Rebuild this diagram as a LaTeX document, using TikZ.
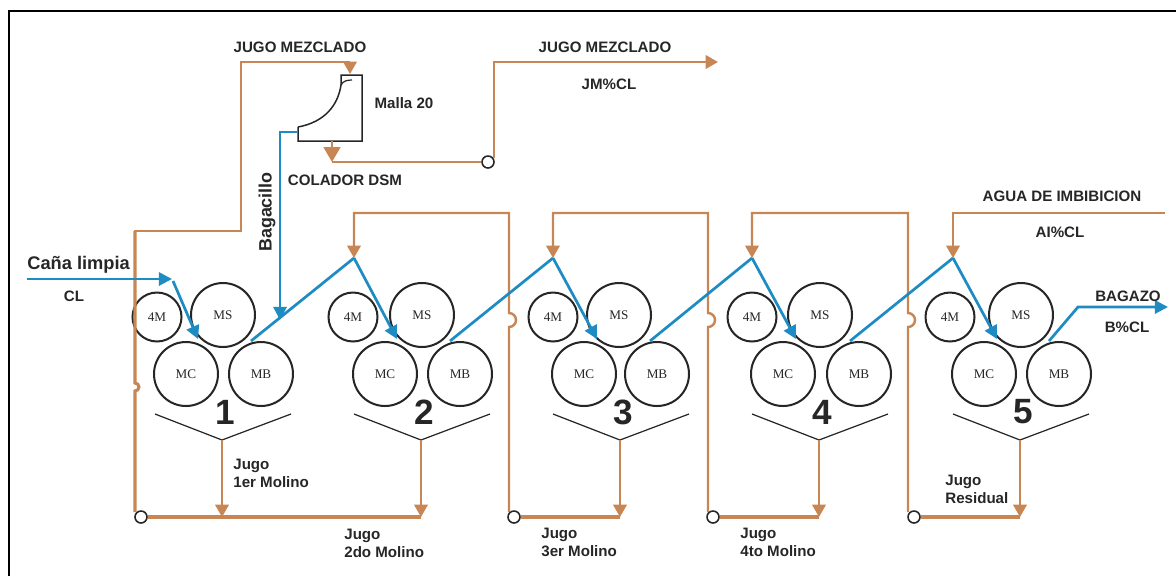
\documentclass[tikz,border=0pt]{standalone}
\usepackage{fontspec}
\setmainfont{Liberation Sans}
\newfontfamily\rollfont{Liberation Serif}
\usepackage{xcolor}
\usepackage{tikz}
\usetikzlibrary{arrows.meta,positioning,calc}
\definecolor{juice}{RGB}{200,134,84}
\definecolor{cane}{RGB}{30,140,195}
\definecolor{ink}{RGB}{38,38,38}
\tikzset{
  roll/.style={circle,draw=ink,line width=1.15pt,inner sep=0pt,font=\rollfont\fontsize{7.5}{8}\selectfont,text=ink},
  ring/.style={circle,draw=ink,line width=0.9pt,inner sep=0pt,minimum size=0.24cm},
  juiceline/.style={juice,line width=1.4pt},
  juicemain/.style={juice,line width=1.75pt},
  caneline/.style={cane,line width=1.55pt},
  juicearrow/.style={juiceline,-{Triangle[length=7pt,width=7.6pt]}},
  canearrow/.style={caneline,-{Triangle[length=7.5pt,width=7.5pt]}},
  lbl/.style={font=\bfseries\fontsize{8.6}{10.2}\selectfont,text=ink,inner sep=0pt,align=left},
  milltxt/.style={font=\bfseries\fontsize{20}{20}\selectfont,text=ink,inner sep=0pt},
}
\begin{document}
\begin{tikzpicture}[x=0.02cm,y=-0.02cm]
\useasboundingbox (0,0) rectangle (1176,576);
% frame
\coordinate (frameA) at (9,576);
\coordinate (frameB) at (9,11);
\coordinate (frameC) at (1176,11);
\draw[black,line width=1.2pt] (frameA) -- (frameB) -- (frameC);
% mills
\foreach \n/\xf/\xs/\xc/\xb/\xh in {1/157/223/186/261/222,2/353/422/385/460/421,3/553/619/584/657/620,4/752/820/783/859/819,5/950/1021/984/1059/1020} {
  \node[roll,minimum size=0.98cm] (cuatro\n) at (\xf,317) {4M};
  \node[roll,minimum size=1.28cm] (ms\n) at (\xs,315) {MS};
  \node[roll,minimum size=1.28cm] (mc\n) at (\xc,374) {MC};
  \node[roll,minimum size=1.28cm] (mb\n) at (\xb,374) {MB};
  \node[milltxt] (num\n) at (\xh+3,412) {\n};
  \coordinate (hopL\n) at (\xh-67,414);
  \coordinate (hop\n) at (\xh,440);
  \coordinate (hopR\n) at (\xh+69,414);
  \draw[ink,line width=0.7pt] (hopL\n) -- (hop\n) -- (hopR\n);
  \coordinate (drop\n) at (\xh,517);
  \draw[juicearrow] (hop\n) -- (drop\n);
}
% colador
\coordinate (dsmA) at (341,75);
\coordinate (dsmB) at (362,75);
\coordinate (dsmC) at (362,141);
\coordinate (dsmD) at (298,141);
\coordinate (dsmE) at (298,127);
\coordinate (dsmIn) at (350,74);
\coordinate (dsmOut) at (332,141);
\coordinate (bagOut) at (298,132);
\draw[ink,line width=0.85pt] (dsmE) -- (dsmD) -- (dsmC) -- (dsmB) -- (dsmA) -- (341,85) .. controls (338,105) and (325,122) .. (dsmE);
\draw[ink,line width=0.7pt] (341,85) .. controls (343,81) and (347,80) .. (352,80);
% junction points
\coordinate (inA) at (173,281);
\coordinate (top2) at (354,258);
\coordinate (top3) at (553,258);
\coordinate (top4) at (752,258);
\coordinate (top5) at (953,258);
% recycle rings
\node[ring] (ring1) at (141,517) {};
\node[ring] (ring2) at (514,517) {};
\node[ring] (ring3) at (713,517) {};
\node[ring] (ring4) at (914,517) {};
\node[ring] (ring0) at (488,162) {};
% juice lines
\draw[juicemain] (ring1) -- (drop2);
\draw[juicemain] (ring2) -- (drop3);
\draw[juicemain] (ring3) -- (drop4);
\draw[juicemain] (ring4) -- (drop5);
\draw[juicemain] (135,512) -- (135,391) arc[start angle=90,end angle=-90,radius=4] -- (135,231);
\draw[juiceline] (134,231) -- (241,231) -- (241,62) -- (350,62);
\draw[juicearrow] (350,62) -- (dsmIn);
\draw[juiceline] (dsmOut) -- ++(0,8);
\draw[juicearrow,-{Triangle[length=8.5pt,width=9.5pt]}] (332,145) -- (332,162);
\draw[juiceline] (332,162) -- (ring0);
\draw[juicearrow] (494,158) -- (494,62) -- (718,62);
\foreach \xv/\xt/\rr in {509/354/2,708/553/3,908/752/4} {
  \draw[juicearrow] (\xv,512) -- (\xv,327) arc[start angle=90,end angle=-90,radius=7] -- (\xv,213) -- (\xt,213) -- (top\rr);
}
\coordinate (aguaIn) at (1165,213);
\draw[juicearrow] (aguaIn) -- (953,213) -- (top5);
% cane lines
\coordinate (caneIn) at (27,279);
\coordinate (caneTip) at (172,279);
\draw[canearrow] (caneIn) -- (caneTip);
\draw[canearrow] (inA) -- (198,339);
\draw[caneline] (251,341) -- (top2);
\draw[canearrow] (top2) -- (397,339);
\draw[caneline] (450,341) -- (top3);
\draw[canearrow] (top3) -- (597,339);
\draw[caneline] (650,341) -- (top4);
\draw[canearrow] (top4) -- (796,339);
\draw[caneline] (850,341) -- (top5);
\draw[canearrow] (top5) -- (997,339);
\draw[canearrow] (1049,341) -- (1078,307) -- (1168,307);
\draw[canearrow] (bagOut) -- (280,132) -- (280,320);
% labels
\node[lbl] (jugoA) at (300,47) {JUGO MEZCLADO};
\node[lbl] (malla) at (404,103) {Malla 20};
\node[lbl] (colador) at (345,180) {COLADOR DSM};
\node[lbl,font=\bfseries\fontsize{10.2}{12}\selectfont,rotate=90] (bagacillo) at (267,212) {Bagacillo};
\node[lbl] (jugoB) at (605,47) {JUGO MEZCLADO};
\node[lbl] (jmcl) at (609,84) {JM\%CL};
\node[lbl] (agua) at (1062,196) {AGUA DE IMBIBICION};
\node[lbl] (aicl) at (1060,232) {AI\%CL};
\node[lbl] (bagazo) at (1128,296) {BAGAZO};
\node[lbl] (bcl) at (1127,327) {B\%CL};
\node[lbl,font=\bfseries\fontsize{10.4}{12}\selectfont,anchor=west] (cana) at (27,265) {Caña limpia};
\node[lbl] (cl) at (74,296) {CL};
\node[lbl,anchor=west] (mol1) at (233,473) {Jugo\\1er Molino};
\node[lbl,anchor=west] (mol2) at (344,543) {Jugo\\2do Molino};
\node[lbl,anchor=west] (mol3) at (541,542) {Jugo\\3er Molino};
\node[lbl,anchor=west] (mol4) at (740,542) {Jugo\\4to Molino};
\node[lbl,anchor=west] (res) at (945,489) {Jugo\\Residual};
\end{tikzpicture}
\end{document}
